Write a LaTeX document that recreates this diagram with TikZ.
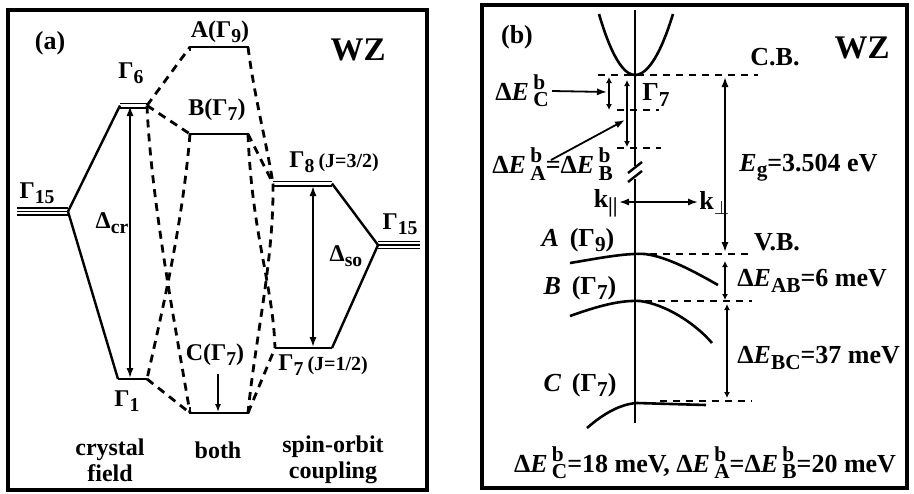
\documentclass[tikz,border=0pt]{standalone}
\usepackage{fontspec}
\setmainfont{Liberation Serif}
\usetikzlibrary{arrows.meta}
\newcommand\lo[1]{\raisebox{-0.45ex}{\scalebox{0.82}{#1}}}
\newcommand\hilo[2]{\rlap{\raisebox{0.9ex}{\scalebox{0.82}{#1}}}\raisebox{-0.55ex}{\scalebox{0.82}{#2}}}
\begin{document}
\begin{tikzpicture}[x=0.5pt,y=-0.5pt,
  frame/.style={line width=1.7pt},
  lvl/.style={line width=1.1pt},
  thin lvl/.style={line width=0.7pt},
  sol/.style={line width=1.2pt},
  dsh/.style={line width=1.4pt,dash pattern=on 4pt off 3pt},
  dshb/.style={line width=1.1pt,dash pattern=on 3.5pt off 3pt},
  arr/.style={line width=0.9pt,-{Latex[length=5pt,width=3.6pt]}},
  darr/.style={line width=0.9pt,{Latex[length=5pt,width=3.6pt]}-{Latex[length=5pt,width=3.6pt]}},
  sarr/.style={line width=0.8pt,{Latex[length=3pt,width=3pt]}-{Latex[length=3pt,width=3pt]}},
  lab/.style={font=\bfseries\fontsize{12}{14}\selectfont,inner sep=0pt},
  labb/.style={font=\bfseries\fontsize{13}{15}\selectfont,inner sep=0pt},
  big/.style={font=\bfseries\fontsize{16.5}{18}\selectfont,inner sep=0pt}]
\useasboundingbox[fill=white] (0,0) rectangle (914,493);
% ================= panel (a) =================
\draw[frame] (8,10) rectangle (427,490);
% level coordinates
\coordinate (L15l) at (17,211.5);  \coordinate (L15r) at (68,211.5);
\coordinate (G6l) at (120,105.5);  \coordinate (G6r) at (147,105.5);
\coordinate (G1l) at (118,379);    \coordinate (G1r) at (147,379);
\coordinate (Al) at (190,47);      \coordinate (Ar) at (248,47);
\coordinate (Bl) at (190,134);     \coordinate (Br) at (248,134);
\coordinate (Cl) at (190,413);     \coordinate (Cr) at (248,413);
\coordinate (G8l) at (273,183.5);  \coordinate (G8r) at (332,183.5);
\coordinate (G7l) at (275,348);    \coordinate (G7r) at (332,348);
\coordinate (R15l) at (378,245);   \coordinate (R15r) at (420,245);
% levels
\draw[thin lvl,double,double distance=2.8pt] (L15l) -- (L15r);
\draw[thin lvl] (L15l) -- (L15r);
\draw[thin lvl,double,double distance=2.8pt] (R15l) -- (R15r);
\draw[thin lvl] (R15l) -- (R15r);
\draw[thin lvl,double,double distance=1.6pt] (G6l) -- (G6r);
\draw[thin lvl,double,double distance=1.6pt] (G8l) -- (G8r);
\draw[lvl] (G1l) -- (G1r);
\draw[lvl] (G7l) -- (G7r);
\draw[lvl] ([yshift=-2pt]Al) -- (Al) -- (Ar) -- ([yshift=-2pt]Ar);
\draw[lvl] ([yshift=-2pt]Bl) -- (Bl) -- (Br) -- ([yshift=-2pt]Br);
\draw[lvl] ([yshift=3pt]Cl) -- (Cl) -- (Cr) -- ([yshift=3pt]Cr);
% solid connectors
\draw[sol] (L15r) -- (G6l);
\draw[sol] (L15r) -- (G1l);
\draw[sol] (G8r) -- (R15l);
\draw[sol] (R15l) -- (G7r);
% dashed connectors, left
\draw[dsh] (G6r) -- (Al);
\draw[dsh] (G6r) -- (Bl);
\draw[dsh] (G6r) .. controls (151,200) and (176,330) .. (Cl);
\draw[dsh] (Bl) .. controls (182,230) and (160,320) .. (G1r);
\draw[dsh] (G1r) -- (Cl);
% dashed connectors, right
\draw[dsh] (Ar) .. controls (254,95) and (266,140) .. (G8l);
\draw[dsh] (Br) -- (G8l);
\draw[dsh] (Br) .. controls (252,235) and (273,285) .. (G7l);
\draw[dsh] (G8l) .. controls (274,260) and (255,340) .. (Cr);
\draw[dsh] (Cr) -- (G7l);
% arrows
\coordinate (dcrT) at (130,106); \coordinate (dcrB) at (130,378);
\draw[darr] (dcrT) -- (dcrB);
\coordinate (dsoT) at (313,186); \coordinate (dsoB) at (313,347);
\draw[darr] (dsoT) -- (dsoB);
\coordinate (cT) at (218,374); \coordinate (cB) at (218,412);
\draw[line width=0.7pt,-{Latex[length=4pt,width=3pt]}] (cT) -- (cB);
% labels
\node[labb] (lA) at (50,43) {(a)};
\node[big] (wzA) at (358,50) {WZ};
\node[lab] (tA) at (220,32) {A(Γ\lo{9})};
\node[lab] (tG6) at (131,73) {Γ\lo{6}};
\node[lab] (tB) at (217,110) {B(Γ\lo{7})};
\node[lab] (tL15) at (37,193) {Γ\lo{15}};
\node[lab] (tdcr) at (112,223) {Δ\lo{cr}};
\node[lab,anchor=west] (tG8) at (289,162) {Γ\lo{8}\,{\fontsize{10}{12}\selectfont(J=3/2)}};
\node[lab] (tR15) at (400,224) {Γ\lo{15}};
\node[lab] (tdso) at (346,256) {Δ\lo{so}};
\node[lab] (tC) at (215,355) {C(Γ\lo{7})};
\node[lab,anchor=west] (tG7) at (278,365) {Γ\lo{7}\,{\fontsize{10}{12}\selectfont(J=1/2)}};
\node[lab] (tG1) at (127,401) {Γ\lo{1}};
\node[lab,align=center] (tcf) at (110,460) {crystal\\[-1pt]field};
\node[lab,anchor=north] (tboth) at (218,441) {both};
\node[lab,align=center] (tso) at (333,460) {spin-orbit\\[-1pt]coupling};
% ================= panel (b) =================
\draw[frame] (482,5) rectangle (907,488);
\coordinate (axT) at (635,10); \coordinate (axM1) at (635,166);
\coordinate (axM2) at (635,179); \coordinate (axB) at (635,423);
\draw[sol] (axT) -- (axM1);
\draw[sol] (axM2) -- (axB);
\draw[sol] (628,173) -- (642,162);
\draw[sol] (628,182) -- (642,171);
% conduction band
\draw[line width=1.3pt] (599,14) parabola bend (635,75) (673,14);
\coordinate (cb1) at (598,75); \coordinate (cb2) at (758,75);
\draw[dshb] (cb1) -- (cb2);
\coordinate (d1a) at (617,110); \coordinate (d1b) at (659,110);
\draw[dshb] (d1a) -- (d1b);
\coordinate (d2a) at (617,148); \coordinate (d2b) at (661,148);
\draw[dshb] (d2a) -- (d2b);
% small arrows near CB
\coordinate (ecT) at (609,77); \coordinate (ecB) at (609,110);
\draw[sarr] (ecT) -- (ecB);
\coordinate (eaT) at (627,80); \coordinate (eaB) at (627,147);
\draw[sarr] (eaT) -- (eaB);
% valence bands
\draw[line width=1.3pt] (570,263) .. controls (600,258) and (625,253) .. (645,254) .. controls (668,257) and (695,272) .. (718,285);
\draw[line width=1.3pt] (570,316) .. controls (598,306) and (620,300) .. (640,301) .. controls (664,304) and (694,322) .. (712,343);
\draw[line width=1.3pt] (587,428) .. controls (603,414) and (620,404) .. (637,403) -- (706,405);
\coordinate (va1) at (637,254); \coordinate (va2) at (752,254);
\draw[dshb] (va1) -- (va2);
\coordinate (vb1) at (645,301); \coordinate (vb2) at (752,301);
\draw[dshb] (vb1) -- (vb2);
\coordinate (vc1) at (660,401); \coordinate (vc2) at (752,401);
\draw[dshb] (vc1) -- (vc2);
% gap arrows
\coordinate (egT) at (725,77); \coordinate (egB) at (725,252);
\draw[darr] (egT) -- (egB);
\coordinate (abT) at (725,261); \coordinate (abB) at (725,300);
\draw[sarr] (abT) -- (abB);
\coordinate (bcT) at (727,304); \coordinate (bcB) at (727,398);
\draw[sarr] (bcT) -- (bcB);
% k arrows
\coordinate (kL) at (619,202); \coordinate (kR) at (698,202);
\draw[darr] (kL) -- (kR);
% labels
\node[labb] (lB) at (517,37) {(b)};
\node[big] (wzB) at (862,48) {WZ};
\node[labb] (tCB) at (775,57) {C.B.};
\node[labb] (tG7b) at (656,95) {Γ\lo{7}};
\node[labb,anchor=west] (tEC) at (495,91) {Δ\textit{E}\,\hilo{b}{C}};
\coordinate (ecTip) at (607,92);
\draw[arr] (tEC.east) ++(3,0) -- (ecTip);
\node[labb,anchor=west] (tEAB) at (492,164) {Δ\textit{E}\,\hilo{b}{A}=Δ\textit{E}\,\hilo{b}{B}};
\coordinate (eaTip) at (625,120);
\coordinate (eaStart) at (551,160);
\draw[arr] (eaStart) -- (eaTip);
\node[labb,anchor=east] (tkp) at (618,203) {k\lo{||}};
\node[labb,anchor=west] (tkt) at (699,203) {k\lo{$\perp$}};
\node[labb] (tAb) at (578,240) {\textit{A}\, (Γ\lo{9})};
\node[labb] (tBb) at (580,288) {\textit{B}\, (Γ\lo{7})};
\node[labb] (tCb) at (580,385) {\textit{C}\, (Γ\lo{7})};
\node[labb] (tVB) at (777,242) {V.B.};
\node[labb,anchor=west] (tEg) at (739,168) {\textit{E}\lo{g}=3.504 eV};
\node[labb,anchor=west] (tEAb) at (737,281) {Δ\textit{E}\lo{AB}=6 meV};
\node[labb,anchor=west] (tEBC) at (737,358) {Δ\textit{E}\lo{BC}=37 meV};
\node[labb] (tbot) at (705,463) {Δ\textit{E}\,\hilo{b}{C}=18 meV,\ Δ\textit{E}\,\hilo{b}{A}=Δ\textit{E}\,\hilo{b}{B}=20 meV};
\end{tikzpicture}
\end{document}
